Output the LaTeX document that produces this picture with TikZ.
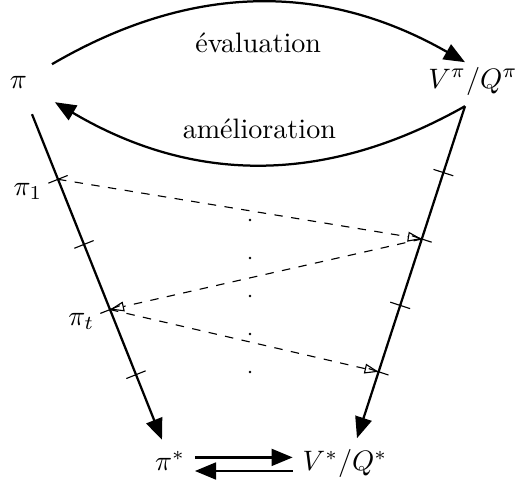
\documentclass[tikz,border=0pt]{standalone}
\usepackage{amsmath,amssymb}
\usepackage{tikz}
\usetikzlibrary{arrows.meta,positioning}

\begin{document}
\begin{tikzpicture}[
    main/.style={thick, -{Triangle[length=7.5pt,width=6pt]}},
    iter/.style={dashed, -{Triangle[open,length=5pt,width=3.5pt]}},
    tick/.style={sloped, draw, solid, line width=0.4pt, inner sep=0pt,
                 minimum width=0pt, minimum height=0.26cm}
]
\useasboundingbox (0,0) rectangle (6.4375,6.0625);

% ---- Politique et valeur ----
\node[anchor=base] (pi) at (0.23,4.96) {$\pi$};
\node[anchor=base] (V) at (5.9125,4.96) {$V^\pi/Q^\pi$};
\node[anchor=base] (pistar) at (2.125,0.175) {$\pi^*$};
\node[anchor=base] (Vstar) at (4.3125,0.175) {$V^*/Q^*$};

% Arcs
\draw[main] ([shift={(0.42,0.3)}]pi.base) to[bend left=30]
  node[midway, below=0.25cm] (eval) {évaluation}
  ([shift={(-0.1,0.325)}]V.base);
\draw[main] ([shift={(-0.1,-0.225)}]V.base) to[bend left=30]
  node[midway, above=0.19cm] (amel) {amélioration}
  ([shift={(0.456,-0.175)}]pi.base);

% ---- Suite des politiques ----
\draw[main] ([shift={(0.17,-0.325)}]pi.base) -- ([shift={(-0.1,0.39)}]pistar.base)
  node[tick, pos=0.2] (l1) {}
  node[tick, pos=0.4] (l2) {}
  node[tick, pos=0.6] (l3) {}
  node[tick, pos=0.8] (l4) {};
\draw[main] ([shift={(-0.1,-0.225)}]V.base) -- ([shift={(0.15,0.41)}]Vstar.base)
  node[tick, pos=0.2] (r1) {}
  node[tick, pos=0.4] (r2) {}
  node[tick, pos=0.6] (r3) {}
  node[tick, pos=0.8] (r4) {};

\node[below left=0.04cm and 0.19cm of l1.center, inner sep=0pt] (pi1) {$\pi_1$};
\node[below left=0.04cm and 0.19cm of l3.center, inner sep=0pt] (pit) {$\pi_t$};

% Iterations
\draw[iter] (l1.center) -- (r2.center);
\draw[iter] (r2.center) -- (l3.center);
\draw[iter] (l3.center) -- (r4.center);

\foreach \y in {3.3125,2.8375,2.3625,1.8875,1.4125}
  \fill (3.125,\y) circle (0.5pt);

% ---- Optimum ----
\draw[main] ([yshift=0.17cm]pistar.base east) -- ([yshift=0.17cm]Vstar.base west);
\draw[main] (Vstar.base west) -- (pistar.base east);

\end{tikzpicture}
\end{document}
